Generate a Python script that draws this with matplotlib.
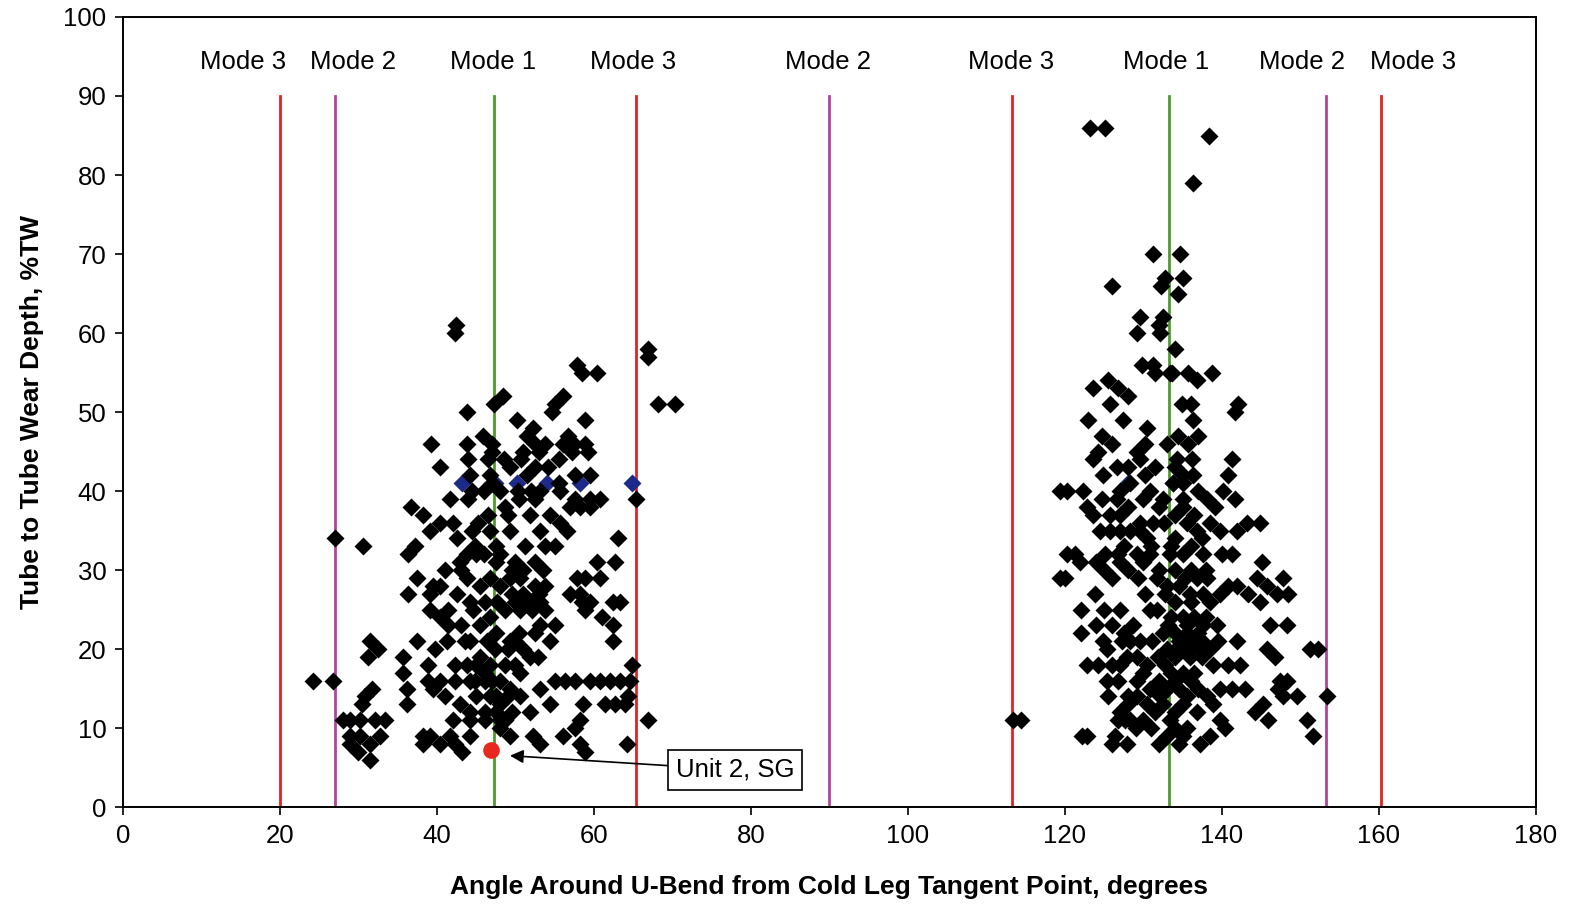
import matplotlib.pyplot as plt

plt.rcParams['font.family'] = ['Liberation Sans', 'DejaVu Sans']

# mode lines (angle, colour) and labels
mode_angles = [20, 27, 47.3, 65.3, 90, 113.3, 133.3, 153.3, 160.3]
mode_colors = ['#e02424', '#b0449c', '#4f9a2c', '#e02424', '#b0449c',
               '#e02424', '#4f9a2c', '#b0449c', '#e02424']
label_angles = [15.3, 29.3, 47.1, 65.0, 89.8, 113.1, 132.9, 150.2, 164.3]
label_texts = ['Mode 3', 'Mode 2', 'Mode 1', 'Mode 3', 'Mode 2',
               'Mode 3', 'Mode 1', 'Mode 2', 'Mode 3']

# cold leg side cluster, read row by row (depth : angles)
left_rows = {
    61: [42.4], 60: [42.3], 58: [66.9], 57: [66.9], 56: [57.8],
    55: [58.5, 60.4], 52: [48.4, 56.1], 51: [47.2, 55.0, 68.1, 70.3],
    50: [43.8, 54.7], 49: [50.2, 58.9], 48: [52.2], 47: [51.5, 56.7, 45.9],
    46: [39.2, 43.8, 47.0, 52.5, 56.0, 57.5, 58.9, 53.8],
    45: [47.0, 57.2, 59.2, 51.0, 53.0], 44: [44.0, 50.7, 55.5, 46.5, 48.5],
    43: [40.4, 52.5, 49.3, 54.1], 42: [44.2, 57.6, 59.5, 46.8, 51.5],
    41: [47.0, 55.5], 40: [44.5, 53.1, 55.7, 50.3, 46.0, 48.0, 52.0],
    39: [65.4, 60.8, 57.6, 59.5, 41.7, 44.0, 50.5, 52.5],
    38: [48.7, 56.9, 58.2, 59.5, 36.7], 37: [38.2, 51.8, 54.4, 46.5, 49.0],
    36: [45.2, 55.7, 40.4, 42.0], 35: [53.1, 49.3, 46.8, 39.1, 56.5, 44.5],
    34: [27.0, 63.1, 42.5], 33: [37.2, 30.6, 51.2, 44.8, 53.8, 55.0, 47.5],
    32: [43.8, 45.0, 46.0, 48.0, 36.3], 31: [60.4, 62.7, 52.5, 42.9, 47.5, 50.0],
    30: [49.5, 51.0, 53.5, 41.0, 43.0],
    29: [37.5, 43.8, 46.8, 50.6, 49.3, 57.8, 58.8, 60.8],
    28: [39.5, 40.4, 45.5, 52.5, 53.8, 48.0],
    27: [36.3, 39.1, 56.9, 58.2, 49.6, 51.0, 53.0, 42.5],
    26: [51.2, 53.1, 44.2, 59.5, 58.5, 62.4, 63.3, 46.1, 47.7, 50.0, 52.0],
    25: [41.4, 44.6, 48.7, 50.6, 52.1, 53.8, 58.8, 39.1],
    24: [61.0, 46.8, 40.4], 23: [41.4, 45.5, 55.0, 62.4, 53.1, 43.0],
    22: [47.5, 50.5, 52.5],
    21: [31.5, 37.5, 41.3, 43.6, 46.4, 49.9, 54.4, 62.4, 49.3, 44.2],
    20: [32.5, 47.4, 39.7, 49.0, 51.0], 19: [31.2, 35.7, 52.9, 45.5, 51.8],
    18: [43.8, 42.3, 64.8, 48.7, 38.9, 45.0, 46.8, 50.0], 17: [35.7, 46.1, 50.6],
    16: [24.2, 26.8, 38.9, 40.4, 42.3, 44.2, 46.1, 48.0, 55.0, 56.3, 57.6,
         59.5, 60.8, 62.1, 63.3, 64.6, 44.8, 47.0],
    15: [36.2, 31.7, 39.5, 49.3, 53.1],
    14: [30.8, 41.0, 46.8, 64.3, 50.6, 45.0, 47.5, 49.0],
    13: [30.4, 36.2, 42.9, 58.6, 61.4, 62.7, 63.9, 48.0, 54.4],
    12: [46.1, 44.2, 51.8, 47.5, 49.5],
    11: [28.0, 28.9, 30.2, 32.1, 33.4, 42.0, 44.2, 46.1, 48.0, 66.9, 58.2, 48.7],
    10: [48.0, 57.6],
    9: [28.9, 30.2, 32.7, 39.1, 44.2, 41.7, 52.2, 49.3, 56.0, 38.2],
    8: [31.5, 28.9, 38.2, 40.4, 42.3, 53.1, 58.2, 64.2],
    7: [29.9, 43.2, 58.8], 6: [31.5],
}

# hot leg side cluster
right_rows = {
    86: [123.2, 125.1], 85: [138.3], 79: [136.3], 70: [131.2, 134.6],
    67: [132.7, 135.0], 66: [126.0, 132.2], 65: [134.4], 62: [129.6, 132.5],
    61: [132.0], 60: [129.2, 132.1], 58: [134.0], 56: [129.8, 131.2],
    55: [131.5, 133.4, 133.6, 135.7, 138.7], 54: [125.5, 136.8],
    53: [123.6, 126.8], 52: [128.0], 51: [125.7, 134.9, 136.0, 142.0],
    50: [141.7], 49: [122.9, 127.4, 136.3], 48: [130.4],
    47: [124.7, 134.4, 137.0], 46: [126.0, 133.0, 130.2, 135.7],
    45: [124.2, 129.2], 44: [123.6, 129.6, 134.3, 136.2, 141.3],
    43: [128.0, 126.6, 131.5, 134.0], 42: [124.8, 130.2, 135.0, 136.3, 140.8],
    41: [128.3, 133.8, 135.0],
    40: [120.3, 122.3, 127.0, 130.8, 137.0, 140.1, 119.4],
    39: [124.7, 126.6, 132.5, 138.1, 141.7, 130.0, 135.0],
    38: [122.8, 128.0, 132.0, 135.0, 139.1],
    37: [123.6, 125.7, 127.0, 134.0, 136.5],
    36: [129.6, 131.2, 135.5, 138.5, 143.2, 144.8, 132.6],
    35: [124.5, 125.7, 127.0, 128.3, 129.6, 136.8, 139.7, 141.9],
    34: [130.5, 134.0, 137.5], 33: [131.0, 133.5, 136.0, 127.5],
    32: [121.3, 125.1, 126.8, 129.2, 130.8, 133.4, 135.0, 137.6, 140.0, 141.3, 120.3],
    31: [121.9, 145.1, 130.0, 127.0, 124.0],
    30: [132.0, 134.0, 136.0, 138.0, 128.0, 125.0],
    29: [119.4, 120.0, 126.0, 129.3, 131.7, 135.3, 136.8, 138.1, 144.5, 147.8],
    28: [140.8, 141.9, 145.7, 133.0, 134.5],
    27: [123.8, 130.2, 132.7, 135.9, 137.6, 139.7, 143.3, 147.0, 148.4],
    26: [144.8, 134.0, 136.0, 138.5], 25: [130.8, 131.7, 127.0, 125.0, 122.0],
    24: [133.5, 135.0, 136.5, 138.0],
    23: [128.7, 133.1, 135.5, 137.6, 139.4, 146.1, 148.3, 124.0, 126.0],
    22: [134.0, 135.5, 137.0, 132.5, 122.0, 127.5],
    21: [124.8, 127.3, 128.3, 129.6, 131.1, 139.5, 141.9, 134.5, 136.0, 137.5],
    20: [125.3, 135.0, 137.2, 145.7, 151.2, 152.2, 133.0, 134.2, 136.0, 138.5],
    19: [127.9, 129.2, 131.8, 135.9, 146.8, 134.0, 137.5],
    18: [122.8, 124.2, 126.0, 127.0, 138.9, 140.8, 142.3, 132.8, 130.5],
    17: [133.5, 135.0, 136.5, 130.0],
    16: [125.3, 126.8, 129.2, 147.4, 148.3, 132.0, 134.0, 136.0],
    15: [130.8, 139.7, 141.3, 142.9, 147.1, 133.0, 134.5, 137.0],
    14: [125.5, 129.2, 132.1, 138.1, 153.4, 149.6, 147.8, 135.5, 128.0],
    13: [130.4, 135.0, 145.2, 138.9, 132.5, 128.0],
    12: [136.8, 144.2, 131.5, 134.0, 127.0],
    11: [113.4, 114.4, 126.8, 127.6, 128.3, 129.9, 133.4, 139.7, 145.9, 150.8],
    10: [134.0, 135.5, 140.4, 131.0, 129.0],
    9: [122.2, 122.8, 126.4, 138.5, 151.6, 133.0, 135.0],
    8: [126.0, 127.9, 137.2, 132.0, 134.5],
}

# second (blue) series, mostly hidden under the black points
blue_angles = [43.2, 47.4, 50.2, 54.0, 58.2, 64.8, 128.0, 133.8]
blue_depths = [41, 41, 41, 41, 41, 41, 41, 41]

unit2_angle = 46.9
unit2_depth = 7.2


def flatten(rows):
    xs, ys = [], []
    for depth, angles in rows.items():
        for a in angles:
            xs.append(a)
            ys.append(depth)
    return xs, ys


left_x, left_y = flatten(left_rows)
right_x, right_y = flatten(right_rows)

fig = plt.figure(figsize=(15.75, 9.09), dpi=100)
ax = fig.add_axes([0.0781, 0.1122, 0.8971, 0.8691])

for a, c in zip(mode_angles, mode_colors):
    ax.plot([a, a], [0, 90], color=c, lw=2, zorder=1)

for a, t in zip(label_angles, label_texts):
    ax.text(a, 94.3, t, ha='center', va='center', fontsize=18.5)

ax.plot(blue_angles, blue_depths, 'D', color='#1c2a8a', ms=9, mec='none', zorder=2)
ax.plot(left_x + right_x, left_y + right_y, 'D', color='black', ms=9,
        mec='none', zorder=3)
ax.plot([unit2_angle], [unit2_depth], 'o', color='#e8281e', ms=12, mec='none', zorder=4)

ax.annotate('Unit 2, SG', xy=(49.3, 6.5), xytext=(78, 4.7), fontsize=18.5,
            ha='center', va='center',
            bbox=dict(boxstyle='square,pad=0.3', fc='white', ec='black', lw=1.2),
            arrowprops=dict(arrowstyle='-|>', color='black', lw=1.2,
                            mutation_scale=20, shrinkA=0, shrinkB=0))

ax.set_xlim(0, 180)
ax.set_ylim(0, 100)
ax.set_xticks(range(0, 181, 20))
ax.set_yticks(range(0, 101, 10))
ax.tick_params(direction='out', length=6, width=1.2, labelsize=18.5, pad=6)
for s in ax.spines.values():
    s.set_linewidth(1.4)

ax.set_xlabel('Angle Around U-Bend from Cold Leg Tangent Point, degrees',
              fontsize=19, fontweight='bold', labelpad=20)
ax.set_ylabel('Tube to Tube Wear Depth, %TW', fontsize=19, fontweight='bold',
              labelpad=14)

fig.savefig('out.png', dpi=100)
